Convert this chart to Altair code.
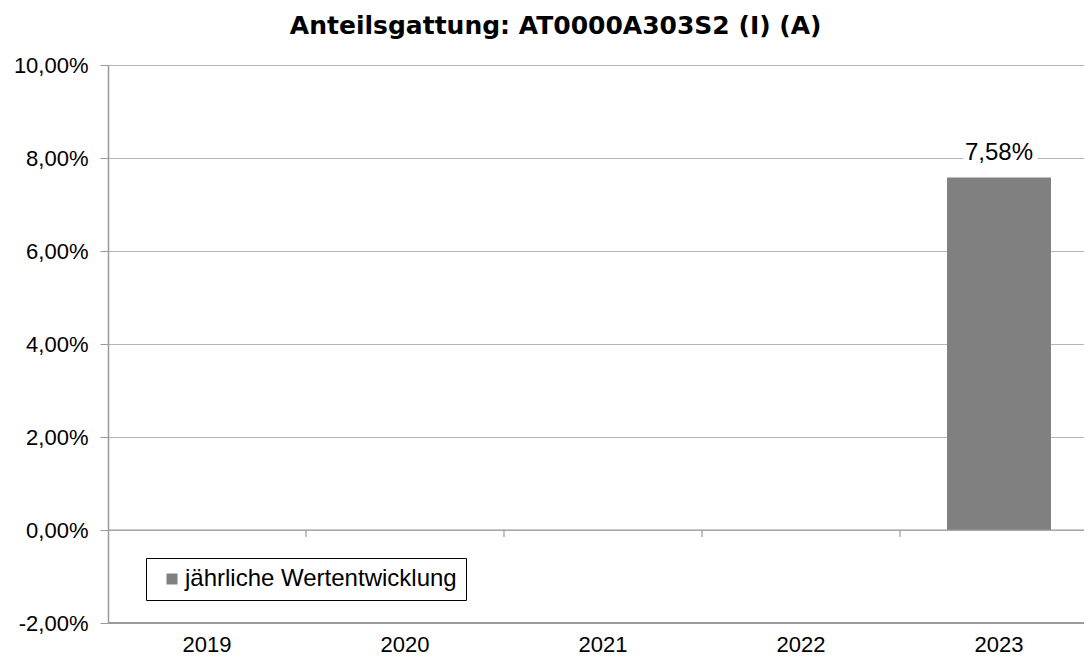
import altair as alt
import pandas as pd

years = ["2019", "2020", "2021", "2022", "2023"]
values = [None, None, None, None, 7.58]
series = "jährliche Wertentwicklung"
tick_years = ["2019", "2020", "2021", "2022"]

df = pd.DataFrame({"year": years, "value": values, "series": [series] * len(years)})
df_bar = df.dropna()
df_ticks = pd.DataFrame({"year": tick_years, "y0": [0.0] * 4, "y1": [-0.15] * 4})
df_zero = pd.DataFrame({"y": [0.0]})
df_bottom = pd.DataFrame({"y": [-2.0]})

FONT = "Liberation Sans"
yscale = alt.Scale(domain=[-2, 10], nice=False, zero=False)
# band scale a little wider than the visible plot: the reference's right edge is cut off
xscale = alt.Scale(domain=years, paddingInner=0, paddingOuter=0, range=[0, 990])

label_expr = "replace(replace(format(datum.value, '.2f'), '.', ','), '\u2212', '-') + '%'"

base_y = alt.Y(
    "value:Q",
    scale=yscale,
    axis=alt.Axis(
        values=[-2, 0, 2, 4, 6, 8, 10],
        labelExpr=label_expr,
        labelFont=FONT,
        labelFontSize=22,
        labelColor="#000000",
        labelPadding=12,
        tickSize=8,
        tickColor="#9a9a9a",
        domainColor="#9a9a9a",
        domainWidth=1.5,
        grid=True,
        gridColor="#b4b4b4",
        gridWidth=1,
        title=None,
    ),
)

base_x = alt.X(
    "year:N",
    scale=xscale,
    sort=years,
    axis=alt.Axis(
        labelAngle=0,
        labelFont=FONT,
        labelFontSize=22,
        labelColor="#000000",
        labelPadding=11,
        ticks=False,
        domain=False,
        grid=False,
        title=None,
    ),
)

bars = alt.Chart(df_bar).mark_bar(color="#808080", width=alt.RelativeBandSize(0.525)).encode(
    x=base_x,
    y=base_y,
    color=alt.Color(
        "series:N",
        scale=alt.Scale(range=["#808080"]),
        legend=alt.Legend(
            title=None,
            orient="none",
            legendX=38,
            legendY=493,
            symbolType="square",
            symbolSize=121,
            symbolStrokeWidth=0,
            symbolOffset=5,
            labelOffset=1,
            labelFont=FONT,
            labelFontSize=24,
            labelColor="#000000",
            labelLimit=0,
            strokeColor="#000000",
            padding=9,
            offset=0,
        ),
    ),
)

zero = alt.Chart(df_zero).mark_rule(color="#9a9a9a", strokeWidth=1.2).encode(y=alt.Y("y:Q", scale=yscale))
bottom = alt.Chart(df_bottom).mark_rule(color="#9a9a9a", strokeWidth=2).encode(y=alt.Y("y:Q", scale=yscale))

ticks = alt.Chart(df_ticks).mark_rule(color="#9a9a9a", strokeWidth=1.2).encode(
    x=alt.X("year:N", scale=xscale, bandPosition=1),
    y=alt.Y("y0:Q", scale=yscale),
    y2="y1:Q",
)

def fmt_label(v):
    return ("%.2f" % v).replace(".", ",") + "%"

df_lab = df_bar.assign(label=[fmt_label(v) for v in df_bar["value"]])

halo = alt.Chart(df_lab).mark_text(
    font=FONT, fontSize=24, dy=-25, stroke="white", strokeWidth=12, color="white"
).encode(x=alt.X("year:N", scale=xscale), y=alt.Y("value:Q", scale=yscale), text="label:N")

text = alt.Chart(df_lab).mark_text(
    font=FONT, fontSize=24, dy=-25, color="#000000"
).encode(x=alt.X("year:N", scale=xscale), y=alt.Y("value:Q", scale=yscale), text="label:N")

chart = (
    alt.layer(bars, zero, bottom, ticks, halo, text)
    .properties(
        width=976,
        height=558,
        title=alt.Title(
            "Anteilsgattung: AT0000A303S2 (I) (A)",
            font="DejaVu Sans",
            fontSize=25,
            fontWeight="bold",
            color="#000000",
            anchor="middle",
            frame="bounds",
            offset=15,
        ),
        autosize=alt.AutoSizeParams(type="none"),
        padding={"left": 100, "top": 57, "right": 0, "bottom": 35},
    )
    .configure_view(strokeWidth=0)
    .configure(background="white")
)

chart.save("out.html", embed_options={"renderer": "svg", "actions": False})
